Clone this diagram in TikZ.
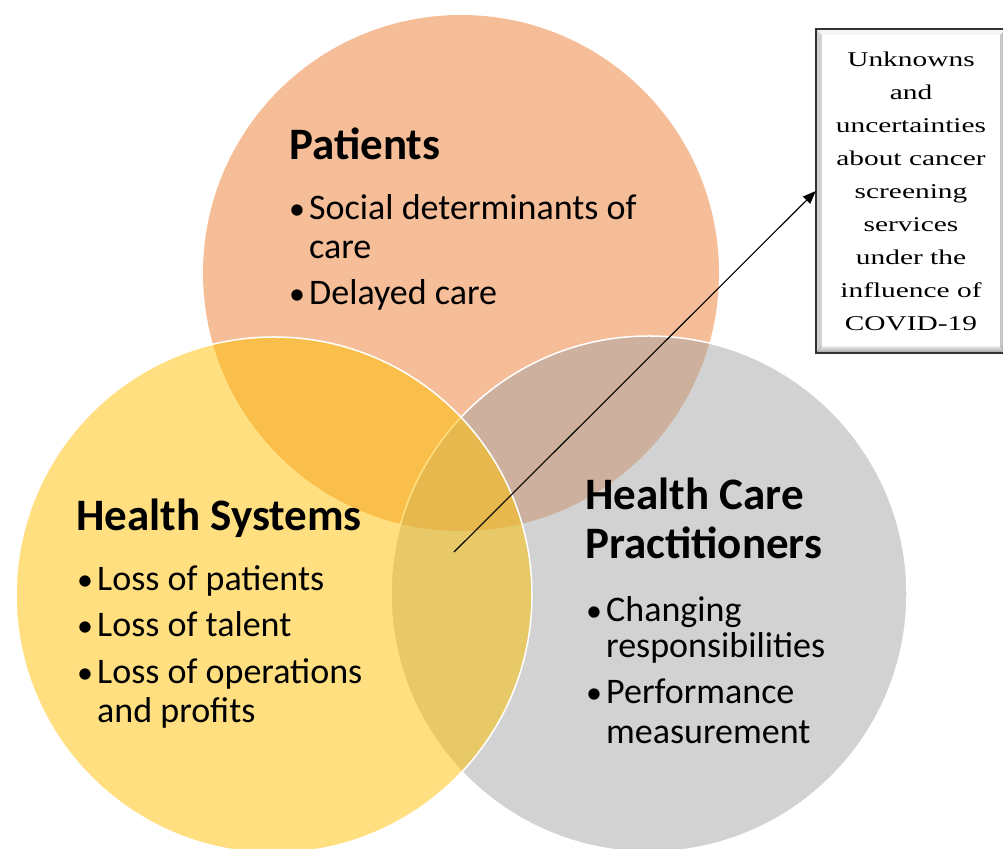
\documentclass[tikz,border=0pt]{standalone}
\usepackage{fontspec}
\setmainfont{Carlito}
\newfontfamily\notefont[FakeStretch=1.4]{Liberation Serif}
\usepackage{tikz}
\usetikzlibrary{calc}
\usetikzlibrary{arrows.meta}

\definecolor{patorange}{HTML}{ED7D31}
\definecolor{sysyellow}{HTML}{FFC000}
\definecolor{hcpgray}{HTML}{A5A5A5}

\tikzset{
  venn/.style={circle, minimum size=516pt, fill opacity=0.5, line width=1.5pt},
  head/.style={anchor=base west, inner sep=0pt, font=\fontsize{45}{50}\selectfont\bfseries},
  item/.style={anchor=base west, inner sep=0pt, font=\fontsize{36}{42}\selectfont},
  notebox/.style={fill=white, minimum width=190pt, minimum height=324pt, align=center,
    font=\fontsize{21}{33}\selectfont\notefont}
}
\newcommand{\dotitem}[1]{\makebox[20pt][l]{{\fontsize{32}{32}\selectfont\textbullet}}#1}

\begin{document}
\begin{tikzpicture}[x=1pt, y=1pt]
    \useasboundingbox (0,0) rectangle (1003,848);

    % the three circles
    \node[venn, fill=patorange] (pat) at (461,575) {};
    \node[venn, fill=hcpgray, draw=white] (hcp) at (649,254) {};
    \node[venn, fill=sysyellow, draw=white] (sys) at (274,253) {};

    % patients
    \node[head] (pattitle) at (289,688) {Patients};
    \node[item] (pat1) at (289,628) {\dotitem{Social determinants of}};
    \node[item] (pat1b) at (309,589) {care};
    \node[item] (pat2) at (289,543) {\dotitem{Delayed care}};

    % health systems
    \node[head] (systitle) at (76,317) {Health Systems};
    \node[item] (sys1) at (77,257) {\dotitem{Loss of patients}};
    \node[item] (sys2) at (77,211) {\dotitem{Loss of talent}};
    \node[item] (sys3) at (77,164) {\dotitem{Loss of operations}};
    \node[item] (sys3b) at (97,125) {and profits};

    % practitioners
    \node[head] (hcptitle) at (585,338) {Health Care};
    \node[head] (hcptitleb) at (585,289) {Practitioners};
    \node[item] (hcp1) at (586,226) {\dotitem{Changing}};
    \node[item] (hcp1b) at (606,190) {responsibilities};
    \node[item] (hcp2) at (586,144) {\dotitem{Performance}};
    \node[item] (hcp2b) at (606,104) {measurement};

    % bevelled note box
    \node[notebox] (note) at (911,657) {Unknowns\\and\\uncertainties\\about cancer\\screening\\services\\under the\\influence of\\COVID-19};
    \fill[gray!35] (note.north west) -- (note.south west) -- ($(note.south west)+(6,6)$) -- ($(note.north west)+(6,-6)$) -- cycle;
    \fill[gray!8] (note.north west) -- (note.north east) -- ($(note.north east)+(-6,-6)$) -- ($(note.north west)+(6,-6)$) -- cycle;
    \fill[gray!45] (note.north east) -- (note.south east) -- ($(note.south east)+(-6,6)$) -- ($(note.north east)+(-6,-6)$) -- cycle;
    \fill[bottom color=gray!80, top color=gray!15] (note.south west) -- (note.south east) -- ($(note.south east)+(-6,7)$) -- ($(note.south west)+(6,7)$) -- cycle;
    \draw[black!80, line width=1.5pt] (note.south west) rectangle (note.north east);

    % pointer into the common region
    \coordinate (core) at (454,296);
    \draw[line width=1.1pt, -{Triangle[length=13pt, width=10pt]}] (core) -- (note.west);
\end{tikzpicture}
\end{document}
